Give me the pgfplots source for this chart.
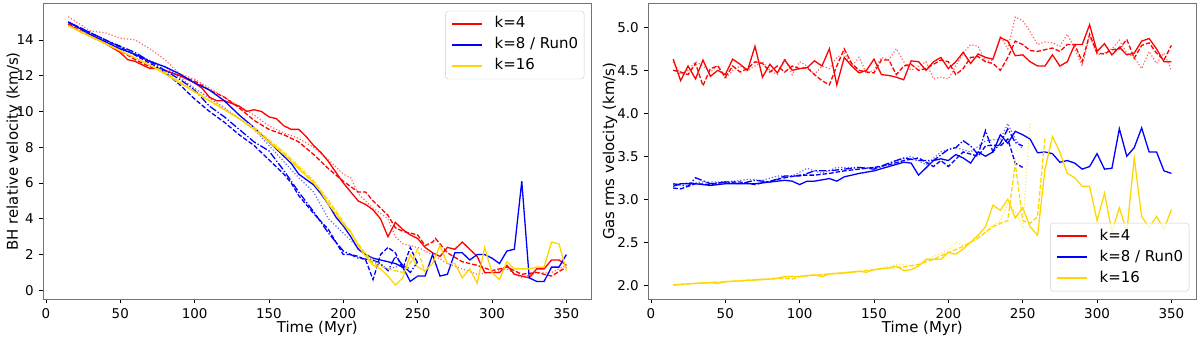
\documentclass[border=0pt]{standalone}
\usepackage{pgfplots}
\pgfplotsset{compat=1.18}
\usepackage{fontspec}
\setmainfont{DejaVu Sans}

\definecolor{cR}{RGB}{255,0,0}
\definecolor{cB}{RGB}{0,0,255}
\definecolor{cY}{RGB}{255,215,0}

\pgfplotsset{
  runs/.style={
    scale only axis,
    width=548bp, height=296bp,
    xmin=-1.75, xmax=366.75,
    xtick={0,50,...,350},
    axis line style={black!55, line width=0.9bp},
    tick style={black, line width=0.8bp},
    tick align=outside, major tick length=4bp,
    xtick pos=bottom, ytick pos=left,
    ticklabel style={font=\fontsize{13.5}{15}\selectfont},
    xticklabel style={yshift=-1.5bp},
    yticklabel style={xshift=-2bp},
    /pgf/number format/assume math mode=true,
    label style={font=\fontsize{15}{18}\selectfont},
    xlabel={Time (Myr)},
    xlabel style={at={(axis description cs:0.5,-0.099)}, anchor=center, inner sep=0pt},
    legend style={font=\fontsize{15}{18}\selectfont, draw=black!20, rounded corners=3bp,
      fill=white, fill opacity=0.8, text opacity=1, inner xsep=6bp, inner ysep=6bp,
      row sep=7bp, column sep=12bp,
      nodes={inner sep=0pt, text height=11bp, text depth=3bp}},
    legend cell align=left,
    legend image code/.code={\draw[#1, solid, opacity=1] (0bp,0bp) -- (30bp,0bp);},
  },
  s/.style={line width=1.3bp, solid},
  d/.style={line width=1.3bp, dash pattern=on 4.6bp off 2bp},
  o/.style={line width=1.2bp, dash pattern=on 1.2bp off 2bp, opacity=0.6},
  dd/.style={line width=1.3bp, dash pattern=on 7.5bp off 2bp on 1.3bp off 2bp},
}

\begin{document}
\begin{tikzpicture}
\path[use as bounding box] (0,0) rectangle (1200bp,337bp);

% ---------------- left panel: BH relative velocity
\begin{axis}[runs, at={(43.3bp,37.7bp)}, anchor=south west,
  ymin=-0.5, ymax=16.05, ytick={0,2,...,14},
  ylabel={BH relative velocity (km/s)},
  ylabel style={at={(axis description cs:-0.054,0.5)}, anchor=center, rotate=0},
  legend style={at={(axis description cs:1,1)}, anchor=north east, xshift=-7bp, yshift=-7.5bp}]

% k=4
\addplot[cR, s] coordinates {
(15,14.9) (20,14.6) (30,14.2) (40,13.8) (50,13.3) (55,12.9) (60,12.8) (70,12.4) (75,12.4) (80,12.3)
(90,12.0) (100,11.6) (105,11.3) (110,10.8) (115,10.6) (120,10.6) (130,10.3) (135,10.0) (140,10.1)
(145,10.0) (150,9.7) (155,9.6) (160,9.2) (165,9.0) (170,9.0) (175,8.6) (180,8.1) (185,7.7) (190,7.2)
(195,6.6) (200,6.0) (205,5.5) (210,5.0) (215,4.8) (220,4.5) (225,4.0) (230,3.0) (235,3.8) (240,3.4)
(245,3.1) (250,2.9) (255,2.4) (260,2.1) (265,1.9) (270,2.4) (275,2.3) (280,2.7) (285,2.3) (290,1.9)
(295,1.0) (300,1.0) (305,1.0) (310,1.4) (315,0.9) (320,0.8) (325,0.7) (330,1.2) (335,1.2) (340,1.7)
(345,1.7) (350,1.4)};
\addlegendentry{k=4}
\addplot[cR, d, forget plot] coordinates {
(15,14.9) (30,14.2) (50,13.4) (60,12.9) (70,12.5) (80,12.3) (90,12.0) (100,11.7) (110,11.2) (120,10.8)
(130,10.2) (140,9.5) (150,9.0) (160,8.7) (170,8.3) (180,7.6) (190,6.8) (200,6.1) (210,5.5) (215,5.5)
(220,5.0) (230,4.2) (235,3.5) (240,3.3) (250,3.1) (255,2.5) (260,2.7) (262,2.9) (270,2.1) (280,1.6)
(290,1.4) (300,1.1) (310,1.3) (320,0.9) (330,1.0) (340,0.8) (350,1.3)};
\addplot[cR, o, forget plot] coordinates {
(15,15.3) (30,14.5) (40,14.4) (50,14.1) (60,14.0) (70,13.5) (80,12.9) (90,12.1) (100,11.8) (110,11.3)
(120,10.8) (130,10.3) (140,9.8) (150,9.2) (160,8.8) (170,8.5) (180,8.0) (190,7.3) (200,6.5) (205,6.3)
(210,5.4) (220,4.6) (230,4.0) (235,3.0) (240,2.6) (250,2.4) (260,2.0) (270,1.5) (280,1.2) (290,0.9)
(300,1.0) (310,1.2) (320,0.7) (330,1.0) (340,1.0) (350,1.4)};

% k=8 / Run0
\addplot[cB, s] coordinates {
(15,15.0) (30,14.3) (50,13.5) (60,13.2) (70,12.8) (80,12.5) (90,12.1) (100,11.6) (110,11.2) (120,10.6)
(130,9.8) (140,9.1) (150,8.3) (160,7.5) (165,7.1) (170,6.5) (175,6.2) (180,5.9) (185,5.4) (190,4.8)
(195,4.1) (200,3.6) (205,3.0) (210,2.3) (215,2.0) (220,1.8) (225,1.7) (230,1.6) (235,1.5) (240,1.3)
(245,0.5) (250,0.8) (255,0.8) (260,2.0) (265,0.8) (270,0.9) (275,2.1) (280,2.1) (285,1.7) (290,2.0)
(295,2.0) (300,1.8) (305,1.5) (310,2.2) (315,2.3) (320,6.1) (325,0.7) (330,0.5) (335,0.5) (340,1.3)
(345,1.3) (350,2.0)};
\addlegendentry{k=8 / Run0}
\addplot[cB, d, forget plot] coordinates {
(15,15.0) (30,14.4) (50,13.6) (70,12.7) (80,12.2) (90,11.5) (100,10.7) (110,10.0) (120,9.4) (130,8.7)
(140,8.1) (150,7.3) (160,6.5) (165,6.0) (170,5.3) (180,4.3) (190,3.4) (195,2.7) (200,2.0) (205,2.0)
(210,1.9) (215,1.7) (220,0.6) (225,2.0) (230,2.4) (235,2.1) (240,1.2) (245,2.4) (250,1.5)};
\addplot[cB, dd, forget plot] coordinates {
(15,15.0) (40,14.0) (60,13.3) (80,12.3) (90,11.8) (100,11.2) (110,10.3) (120,9.7) (130,9.0) (140,8.3)
(150,7.8) (160,6.7) (170,5.5) (180,4.4) (185,3.8) (190,3.2) (200,2.2) (210,1.8) (220,1.7) (225,1.5)
(230,1.1) (235,1.9) (240,1.4) (245,1.0) (250,1.6)};
\addplot[cB, o, forget plot] coordinates {
(15,15.0) (40,14.0) (60,13.2) (80,12.5) (100,11.3) (120,10.2) (140,9.0) (150,8.1) (160,7.2) (170,6.3)
(180,5.5) (190,4.0) (200,3.2) (210,2.4) (220,1.6) (230,1.2) (240,1.4) (245,1.2)};

% k=16
\addplot[cY, s] coordinates {
(15,14.8) (30,14.2) (50,13.4) (60,13.0) (70,12.6) (80,12.1) (90,11.6) (100,11.1) (110,10.6) (120,10.1)
(130,9.6) (140,9.0) (150,8.3) (160,7.6) (170,6.8) (180,6.0) (185,5.5) (190,4.8) (195,4.3) (200,3.7)
(205,3.3) (210,2.5) (215,1.9) (220,1.4) (225,1.2) (230,0.8) (235,0.3) (240,0.7) (245,2.0) (250,1.3)
(255,1.1) (260,1.5) (265,2.5) (270,1.5) (275,1.5) (280,0.7) (285,1.2) (290,0.4) (295,2.4) (300,1.0)
(305,0.6) (310,1.6) (315,1.2) (320,1.2) (325,1.2) (330,1.3) (335,1.3) (340,2.7) (345,2.6) (350,1.1)};
\addlegendentry{k=16}
\addplot[cY, d, forget plot] coordinates {
(15,14.8) (40,13.8) (60,13.0) (80,12.2) (100,11.1) (120,10.1) (140,9.1) (160,7.7) (180,6.1) (190,5.0)
(200,3.8) (210,2.6) (220,1.5) (230,1.2) (240,1.0) (245,1.5) (250,2.3) (255,1.0)};
\addplot[cY, o, forget plot] coordinates {
(15,14.8) (40,13.8) (60,13.0) (80,12.2) (100,11.2) (120,10.2) (140,9.1) (160,7.8) (180,6.2) (190,5.1)
(200,3.9) (210,2.5) (220,1.7) (230,1.2) (240,1.0) (250,0.8) (255,0.4)};
\end{axis}

% ---------------- right panel: gas rms velocity
\begin{axis}[runs, at={(648.3bp,37.7bp)}, anchor=south west,
  ymin=1.835, ymax=5.28, ytick={2.0,2.5,...,5.0},
  yticklabel style={/pgf/number format/.cd, fixed, fixed zerofill, precision=1},
  ylabel={Gas rms velocity (km/s)},
  ylabel style={at={(axis description cs:-0.070,0.5)}, anchor=center, rotate=0},
  legend style={at={(axis description cs:1,0)}, anchor=south east, xshift=-7bp, yshift=8bp}]

% k=4
\addplot[cR, s] coordinates {
(15,4.63) (20,4.38) (25,4.55) (30,4.40) (35,4.62) (40,4.43) (45,4.50) (50,4.45) (55,4.63) (60,4.57)
(65,4.50) (70,4.78) (75,4.42) (80,4.57) (85,4.47) (90,4.62) (95,4.50) (100,4.52) (105,4.53) (110,4.61)
(115,4.55) (120,4.75) (125,4.33) (130,4.65) (135,4.55) (140,4.47) (145,4.50) (150,4.63) (155,4.45)
(160,4.44) (165,4.42) (170,4.39) (175,4.61) (180,4.60) (185,4.50) (190,4.60) (195,4.65) (200,4.52)
(205,4.60) (210,4.71) (215,4.58) (220,4.69) (225,4.65) (230,4.63) (235,4.88) (240,4.84) (245,4.67)
(250,4.68) (255,4.60) (260,4.55) (265,4.55) (270,4.68) (275,4.55) (280,4.60) (285,4.80) (290,4.80)
(295,5.03) (300,4.72) (305,4.81) (310,4.68) (315,4.77) (320,4.68) (325,4.70) (330,4.84) (335,4.87)
(340,4.75) (345,4.60) (350,4.60)};
\addlegendentry{k=4}
\addplot[cR, d, forget plot] coordinates {
(15,4.50) (20,4.48) (25,4.45) (30,4.58) (35,4.32) (40,4.52) (45,4.55) (50,4.42) (55,4.55) (60,4.48)
(65,4.52) (70,4.60) (75,4.58) (80,4.48) (85,4.55) (90,4.48) (95,4.55) (100,4.52) (105,4.53) (110,4.45)
(115,4.38) (120,4.33) (125,4.55) (130,4.75) (135,4.58) (140,4.50) (145,4.48) (150,4.47) (155,4.62)
(160,4.62) (165,4.45) (170,4.55) (175,4.57) (180,4.50) (185,4.52) (190,4.57) (195,4.62) (200,4.60)
(205,4.45) (210,4.52) (215,4.65) (220,4.66) (225,4.60) (230,4.58) (235,4.50) (240,4.65) (245,4.84)
(250,4.80) (255,4.73) (260,4.72) (265,4.74) (270,4.76) (275,4.72) (280,4.80) (285,4.80) (290,4.60)
(295,4.92) (300,4.70) (305,4.69) (310,4.74) (315,4.75) (320,4.86) (325,4.64) (330,4.79) (335,4.82)
(340,4.70) (345,4.62) (350,4.79)};
\addplot[cR, o, forget plot] coordinates {
(15,4.60) (20,4.45) (25,4.50) (30,4.60) (35,4.55) (40,4.48) (45,4.56) (50,4.40) (55,4.50) (60,4.55)
(65,4.50) (70,4.55) (75,4.60) (80,4.50) (85,4.45) (90,4.64) (95,4.45) (100,4.60) (105,4.55) (110,4.45)
(115,4.55) (120,4.52) (125,4.65) (130,4.70) (135,4.55) (140,4.65) (145,4.47) (150,4.50) (155,4.65)
(160,4.62) (165,4.75) (170,4.60) (175,4.50) (180,4.55) (185,4.60) (190,4.40) (195,4.42) (200,4.40)
(205,4.55) (210,4.70) (215,4.80) (220,4.78) (225,4.60) (230,4.62) (235,4.90) (240,4.75) (245,5.12)
(250,5.08) (255,4.95) (260,4.80) (265,4.83) (270,4.82) (275,4.78) (280,4.92) (285,4.75) (290,4.55)
(295,4.90) (300,4.68) (305,4.70) (310,4.75) (315,4.85) (320,4.70) (325,4.65) (330,4.52) (335,4.72)
(340,4.58) (345,4.70) (350,4.50)};

% k=8 / Run0
\addplot[cB, s] coordinates {
(15,3.15) (20,3.18) (30,3.18) (40,3.16) (50,3.18) (60,3.18) (70,3.18) (80,3.20) (90,3.22) (95,3.21)
(100,3.17) (105,3.21) (110,3.21) (120,3.24) (125,3.21) (130,3.26) (140,3.30) (150,3.33) (160,3.38)
(170,3.43) (175,3.42) (180,3.28) (190,3.45) (195,3.47) (200,3.45) (205,3.52) (210,3.48) (215,3.42)
(220,3.55) (225,3.50) (230,3.55) (235,3.75) (240,3.65) (245,3.79) (250,3.75) (255,3.70) (260,3.54)
(265,3.55) (270,3.53) (275,3.43) (280,3.45) (285,3.42) (290,3.35) (295,3.38) (300,3.53) (305,3.35)
(310,3.36) (315,3.82) (320,3.50) (325,3.60) (330,3.83) (335,3.55) (340,3.55) (345,3.33) (350,3.30)};
\addlegendentry{k=8 / Run0}
\addplot[cB, d, forget plot] coordinates {
(15,3.13) (20,3.12) (30,3.18) (40,3.17) (50,3.20) (60,3.20) (70,3.17) (80,3.21) (90,3.25) (100,3.28)
(110,3.28) (120,3.30) (130,3.33) (140,3.35) (150,3.37) (160,3.40) (170,3.45) (180,3.48) (190,3.38)
(195,3.45) (200,3.38) (210,3.55) (220,3.50) (225,3.62) (230,3.63) (235,3.62) (240,3.70) (245,3.42)
(250,3.37)};
\addplot[cB, dd, forget plot] coordinates {
(15,3.18) (25,3.15) (30,3.25) (40,3.18) (50,3.20) (60,3.18) (70,3.22) (80,3.20) (90,3.27) (100,3.27)
(110,3.33) (120,3.33) (130,3.35) (140,3.37) (150,3.35) (160,3.42) (170,3.48) (180,3.45) (190,3.45)
(200,3.58) (205,3.60) (210,3.68) (215,3.62) (220,3.52) (225,3.80) (230,3.55) (235,3.65) (240,3.82)
(245,3.66) (250,3.62)};
\addplot[cB, o, forget plot] coordinates {
(15,3.17) (25,3.19) (35,3.20) (45,3.20) (55,3.21) (65,3.23) (75,3.22) (85,3.27) (95,3.27) (105,3.36)
(115,3.30) (125,3.37) (135,3.37) (145,3.37) (155,3.37) (165,3.45) (175,3.50) (185,3.40) (195,3.55)
(205,3.60) (215,3.55) (225,3.68) (235,3.70) (240,3.88) (245,3.70) (250,3.58)};

% k=16
\addplot[cY, s] coordinates {
(15,2.00) (20,2.01) (30,2.02) (40,2.03) (45,2.02) (50,2.04) (60,2.05) (70,2.06) (80,2.07) (85,2.08)
(90,2.10) (100,2.10) (110,2.12) (115,2.10) (120,2.13) (130,2.14) (140,2.16) (145,2.15) (150,2.18)
(160,2.20) (165,2.22) (170,2.17) (175,2.18) (180,2.22) (185,2.30) (190,2.30) (195,2.30) (200,2.38)
(205,2.36) (210,2.42) (215,2.50) (220,2.58) (225,2.68) (230,2.93) (235,2.87) (240,3.00) (245,2.78)
(250,2.90) (255,2.68) (260,2.58) (265,3.35) (270,3.73) (275,3.55) (280,3.30) (285,3.25) (290,3.15)
(295,3.15) (300,2.75) (305,3.07) (310,2.62) (315,2.90) (320,2.62) (325,3.48) (330,2.80) (335,2.67)
(340,2.80) (345,2.65) (350,2.88)};
\addlegendentry{k=16}
\addplot[cY, d, forget plot] coordinates {
(15,2.00) (30,2.02) (50,2.04) (70,2.06) (90,2.08) (95,2.07) (100,2.10) (120,2.13) (140,2.16) (160,2.20)
(170,2.21) (180,2.24) (190,2.30) (200,2.38) (210,2.45) (220,2.55) (230,2.68) (235,2.72) (240,2.75)
(245,3.42) (250,2.75) (255,2.72) (260,2.80) (265,3.72)};
\addplot[cY, o, forget plot] coordinates {
(15,2.00) (30,2.02) (50,2.04) (70,2.07) (90,2.09) (110,2.12) (130,2.15) (150,2.18) (165,2.24) (180,2.23)
(190,2.33) (200,2.41) (205,2.50) (210,2.46) (220,2.54) (230,2.70) (235,2.75) (240,2.95) (245,2.85)
(250,2.68) (255,3.90)};
\end{axis}
\end{tikzpicture}
\end{document}
